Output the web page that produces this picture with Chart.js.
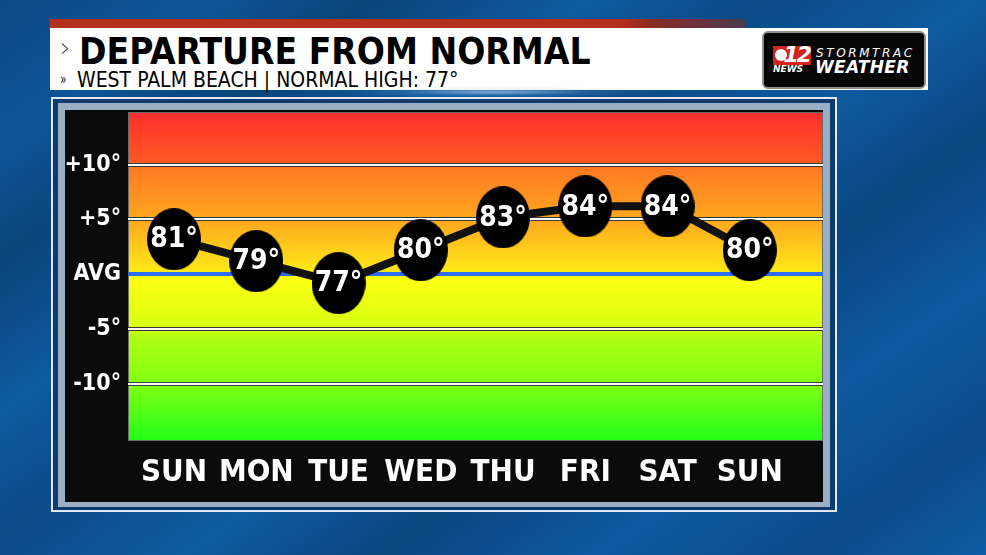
<!DOCTYPE html>
<html>
<head>
<meta charset="utf-8">
<script src="https://cdn.jsdelivr.net/npm/chart.js@4.4.1/dist/chart.umd.min.js"></script>
<style>
  html, body { margin: 0; padding: 0; }
  body {
    width: 986px; height: 555px; overflow: hidden; position: relative;
    font-family: 'DejaVu Sans Condensed', 'Liberation Sans Narrow', 'Roboto', sans-serif;
    background: linear-gradient(145deg, #0b4a86 0%, #0d5596 12%, #0a447b 21%, #0e5aa0 33%, #0b4b88 43%, #0e5aa0 55%, #0a4680 66%, #0d58a0 78%, #0b4c8a 90%, #0e5aa2 100%);
  }
  .abs { position: absolute; }
  #redbar { left: 50px; top: 19px; width: 695px; height: 9px;
    background: linear-gradient(to right, #b3301b 0%, #b3301b 82%, #8e2b22 86%, #70303a 92%, #4b3b4c 100%); }
  #banner { left: 50px; top: 28px; width: 878px; height: 62px; background: #fff; }
  #chev { left: 60px; top: 31px; font-size: 27px; color: #111; font-family: 'Lato', sans-serif; font-weight: 300;
    transform: scaleX(0.6); transform-origin: left top; }
  #title { left: 79px; top: 30px; font-size: 37px; font-weight: bold; color: #000; white-space: nowrap;
    transform: scaleX(0.995); transform-origin: left top; }
  #dchev { left: 60px; top: 69px; font-size: 15px; color: #222; font-family: 'Lato', sans-serif; }
  #sub { left: 77px; top: 68px; font-size: 21px; color: #000; white-space: nowrap; }
  #logo { left: 762px; top: 31px; width: 160px; height: 54px; background: #060606; border: 2px solid #8d8d8d; border-radius: 6px; }
  #cbs { left: 9px; top: 13px; width: 38px; height: 19px; background: #d1241f; }
  #cbs span { position: absolute; right: 1px; top: -4px; font: italic bold 22px 'DejaVu Sans', sans-serif; color: #fff; letter-spacing: -2px; }
  #eye { position: absolute; left: 2px; top: 3px; width: 12px; height: 12px; border-radius: 50%; background: #fff; }
  #news { left: 9px; top: 31px; font: italic bold 9px 'DejaVu Sans', sans-serif; color: #fff; }
  #storm { left: 52px; top: 13px; font: italic 12px 'DejaVu Sans', sans-serif; letter-spacing: 2.6px; color: #fff; }
  #wx { left: 51px; top: 24px; font: italic bold 17px 'DejaVu Sans', sans-serif; color: #fff; letter-spacing: 0.3px; }
  #flare { left: 330px; top: 86px; width: 330px; height: 12px;
    background: radial-gradient(ellipse at center, rgba(220,235,255,0.55) 0%, rgba(150,190,240,0.15) 40%, rgba(0,0,0,0) 70%); }
  #frame { left: 51px; top: 97px; width: 782px; height: 411px; border: 2px solid #dfe8f1; background: #0b3c6c; }
  #steel { left: 58px; top: 103px; width: 772px; height: 404px; background: #9aafc3; }
  #wrap { left: 65px; top: 110px; width: 758px; height: 392px; background: #0b0b0b; }
</style>
</head>
<body>
<div id="redbar" class="abs"></div>
<div id="banner" class="abs"></div>
<div id="flare" class="abs"></div>
<div id="chev" class="abs">&gt;</div>
<div id="title" class="abs">DEPARTURE FROM NORMAL</div>
<div id="dchev" class="abs">&raquo;</div>
<div id="sub" class="abs">WEST PALM BEACH | NORMAL HIGH: 77°</div>
<div id="logo" class="abs">
  <div id="cbs" class="abs"><div id="eye"></div><span>12</span></div>
  <div id="news" class="abs">NEWS</div>
  <div id="storm" class="abs">STORMTRAC</div>
  <div id="wx" class="abs">WEATHER</div>
</div>
<div id="frame" class="abs"></div>
<div id="steel" class="abs"></div>
<div id="wrap" class="abs"><canvas id="chart" width="758" height="392"></canvas></div>

<script>
// données
const days = ['SUN', 'MON', 'TUE', 'WED', 'THU', 'FRI', 'SAT', 'SUN'];
const highs = [81, 79, 77, 80, 83, 84, 84, 80];
const normalHigh = 77;
const departureTicks = [10, 5, 0, -5, -10];

const FONT = "'DejaVu Sans Condensed', 'Liberation Sans Narrow', 'Roboto', sans-serif";

// point en forme d'ellipse noire
const ellipse = document.createElement('canvas');
ellipse.width = 54;
ellipse.height = 62;
const ec = ellipse.getContext('2d');
ec.fillStyle = '#000';
ec.beginPath();
ec.ellipse(27, 31, 27, 31, 0, 0, Math.PI * 2);
ec.fill();

const bandPlugin = {
  id: 'bands',
  beforeDraw(chart) {
    const { ctx, chartArea: a } = chart;
    ctx.save();
    ctx.fillStyle = '#0b0b0b';
    ctx.fillRect(0, 0, chart.width, chart.height);
    const g = ctx.createLinearGradient(0, a.top, 0, a.bottom);
    g.addColorStop(0, '#ff2e2e');
    g.addColorStop(0.16, '#ff5a22');
    g.addColorStop(0.17, '#ff7a22');
    g.addColorStop(0.33, '#ffa81e');
    g.addColorStop(0.49, '#ffec18');
    g.addColorStop(0.5, '#ffff12');
    g.addColorStop(0.66, '#d6ff12');
    g.addColorStop(0.68, '#b2ff12');
    g.addColorStop(0.83, '#80ff12');
    g.addColorStop(1, '#22ff1a');
    ctx.fillStyle = g;
    ctx.fillRect(a.left, a.top, a.right - a.left, a.bottom - a.top);
    ctx.strokeStyle = '#6c6c6c';
    ctx.lineWidth = 1;
    ctx.strokeRect(a.left + 0.5, a.top + 0.5, a.right - a.left - 1, a.bottom - a.top - 1);
    ctx.restore();
  },
  beforeDatasetsDraw(chart) {
    const { ctx, chartArea: a, scales } = chart;
    ctx.save();
    ctx.strokeStyle = '#ffffff';
    ctx.lineWidth = 2;
    departureTicks.forEach(v => {
      if (v === 0) return;
      const y = Math.round(scales.y.getPixelForValue(v));
      ctx.beginPath();
      ctx.moveTo(a.left, y);
      ctx.lineTo(a.right, y);
      ctx.stroke();
    });
    ctx.restore();
  }
};

const labelPlugin = {
  id: 'tempLabels',
  afterDatasetsDraw(chart) {
    const ctx = chart.ctx;
    const meta = chart.getDatasetMeta(0);
    ctx.save();
    ctx.fillStyle = '#fff';
    ctx.font = 'bold 28px ' + FONT;
    ctx.textAlign = 'center';
    ctx.textBaseline = 'middle';
    meta.data.forEach((p, i) => {
      ctx.fillText(highs[i] + '°', p.x, p.y + 1);
    });
    ctx.restore();
  }
};

const ctx = document.getElementById('chart').getContext('2d');
window.departureChart = new Chart(ctx, {
  type: 'line',
  data: {
    datasets: [{
      label: 'High',
      data: highs.map((t, i) => ({ x: i, y: t })),
      yAxisID: 'temp',
      borderColor: '#111',
      borderWidth: 8,
      pointStyle: ellipse,
      pointRadius: 30,
      clip: false,
      tension: 0
    }]
  },
  options: {
    responsive: false,
    animation: false,
    events: [],
    layout: { autoPadding: false, padding: { top: 2, right: 0, bottom: 0, left: 0 } },
    plugins: {
      legend: { display: false },
      tooltip: { enabled: false }
    },
    scales: {
      x: {
        type: 'linear',
        min: -0.56,
        max: 7.89,
        afterBuildTicks: scale => { scale.ticks = days.map((d, i) => ({ value: i })); },
        afterFit: scale => { scale.height = 61; },
        grid: { display: false },
        border: { display: false },
        ticks: {
          autoSkip: false,
          maxRotation: 0,
          padding: 5,
          color: '#fff',
          font: { family: FONT, size: 31, weight: 'bold' },
          callback: v => days[v]
        }
      },
      y: {
        position: 'left',
        min: -15.2,
        max: 14.8,
        afterBuildTicks: scale => { scale.ticks = departureTicks.map(v => ({ value: v })); },
        afterFit: scale => {
          scale.width = 63;
          scale.paddingTop = 0;
          scale.paddingBottom = 0;
        },
        border: { display: false },
        grid: {
          drawTicks: false,
          color: c => c.tick && c.tick.value === 0 ? '#2f6cf2' : '#3a3a3a',
          lineWidth: 4
        },
        ticks: {
          padding: 7,
          color: '#fff',
          font: { family: FONT, size: 23, weight: 'bold' },
          callback: v => v === 0 ? 'AVG' : (v > 0 ? '+' : '') + v + '°'
        }
      },
      temp: {
        display: false,
        min: normalHigh - 14.4,
        max: normalHigh + 15.6
      }
    }
  },
  plugins: [bandPlugin, labelPlugin]
});
</script>
</body>
</html>
